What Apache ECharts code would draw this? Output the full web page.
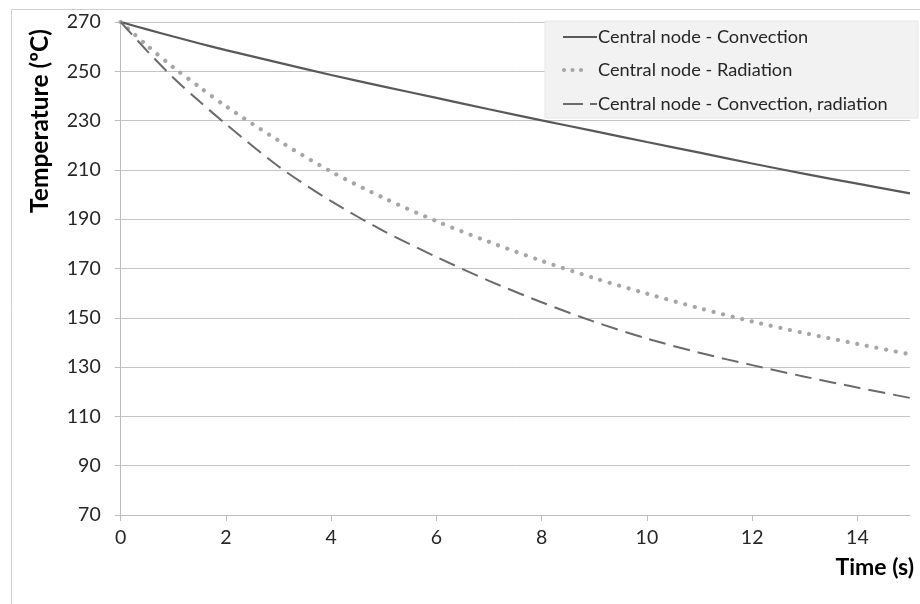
<!DOCTYPE html>
<html>
<head>
<meta charset="utf-8">
<script src="https://cdn.jsdelivr.net/npm/echarts@6/dist/echarts.min.js"></script>
<style>html,body{margin:0;padding:0;background:#fff;}#c{width:920px;height:604px;}</style>
</head>
<body>
<div id="c"></div>
<script>
var timeS = [0, 0.5, 1, 1.5, 2, 3, 4, 5, 6, 7, 8, 9, 10, 11, 12, 13, 14, 15];
var convection = [270, 267.0, 264.1, 261.3, 258.6, 253.5, 248.5, 243.8, 239.2, 234.6, 230.1, 225.7, 221.3, 217.0, 212.6, 208.4, 204.4, 200.5];
var radiation = [270, 260.5, 251.6, 243.6, 235.8, 221.9, 209.3, 198.6, 189.2, 180.8, 173.1, 166.1, 159.8, 153.9, 148.5, 143.8, 139.4, 135.2];
var convRad = [270, 258.3, 247.4, 237.7, 228.6, 211.4, 197.3, 185.2, 174.7, 165.0, 156.3, 148.4, 141.6, 135.8, 130.8, 126.1, 121.7, 117.5];
var xTicks = [0, 2, 4, 6, 8, 10, 12, 14];
var seriesNames = ['Central node - Convection', 'Central node - Radiation', 'Central node - Convection, radiation'];

function pairs(ys) { return timeS.map(function (t, i) { return [t, ys[i]]; }); }

var FONT = 'Lato';
var C_SOLID = '#595959', C_DOT = '#a6a6a6', C_DASH = '#6b6b6b';
var DOT_STYLE = { color: C_DOT, width: 4.2, type: [0.01, 9.8], cap: 'round' };
var DASH_STYLE = { color: C_DASH, width: 2, type: [17, 8] };

var chart = echarts.init(document.getElementById('c'), null, { renderer: 'canvas' });
chart.setOption({
  animation: false,
  backgroundColor: '#ffffff',
  textStyle: { fontFamily: FONT },
  grid: { left: 120.7, top: 22, right: 10, bottom: 89, containLabel: false },
  xAxis: {
    type: 'value', min: 0, max: 15, interval: 2,
    axisLine: { show: true, lineStyle: { color: '#bdbdbd', width: 1 } },
    axisTick: { show: true, inside: false, length: 6, lineStyle: { color: '#bdbdbd' }, customValues: xTicks },
    axisLabel: { color: '#262626', fontSize: 19.5, fontFamily: FONT, margin: 13, customValues: xTicks },
    splitLine: { show: false }
  },
  yAxis: {
    type: 'value', min: 70, max: 270, interval: 20,
    axisLine: { show: true, lineStyle: { color: '#bdbdbd', width: 1 } },
    axisTick: { show: true, inside: false, length: 6, lineStyle: { color: '#bdbdbd' } },
    axisLabel: { color: '#262626', fontSize: 19.5, fontFamily: FONT, margin: 20 },
    splitLine: { show: true, lineStyle: { color: '#c4c4c4', width: 1 } }
  },
  legend: {
    orient: 'vertical', left: 563, top: 27, padding: 0,
    itemWidth: 34, itemHeight: 14, itemGap: 13.5, icon: 'none',
    data: seriesNames,
    textStyle: { color: '#262626', fontSize: 18.2, fontFamily: FONT, padding: [0, 0, 0, -4], lineHeight: 20 },
    z: 10
  },
  graphic: [
    { type: 'rect', left: 9, top: 7, shape: { width: 1000, height: 1000 }, style: { fill: 'none', stroke: '#cfcfcf', lineWidth: 1 }, z: 0, silent: true },
    { type: 'rect', shape: { x: 545, y: 21, width: 373, height: 97 }, style: { fill: '#f2f2f2', stroke: '#e6e6e6' }, z: 5, silent: true },
    { type: 'line', shape: { x1: 563, y1: 37, x2: 597, y2: 37 }, style: { stroke: C_SOLID, lineWidth: 2.2 }, z: 11, silent: true },
    { type: 'line', shape: { x1: 564, y1: 70, x2: 582, y2: 70 }, style: { stroke: C_DOT, lineWidth: 4.2, lineDash: [0.01, 8.5], lineCap: 'round' }, z: 11, silent: true },
    { type: 'line', shape: { x1: 563, y1: 104, x2: 597, y2: 104 }, style: { stroke: C_DASH, lineWidth: 2, lineDash: [20, 7] }, z: 11, silent: true },
    { type: 'text', x: 40, y: 121, rotation: Math.PI / 2, style: { text: 'Temperature (ºC)', font: 'bold 24.5px ' + FONT, fill: '#000', align: 'center', verticalAlign: 'middle' }, z: 6 },
    { type: 'text', x: 914, y: 568, style: { text: 'Time (s)', font: 'bold 23px ' + FONT, fill: '#000', align: 'right', verticalAlign: 'middle' }, z: 6 }
  ],
  series: [
    { name: seriesNames[0], type: 'line', data: pairs(convection), showSymbol: false, symbol: 'none', smooth: 0.3,
      lineStyle: { color: C_SOLID, width: 2.2 }, itemStyle: { color: C_SOLID }, z: 3 },
    { name: seriesNames[1], type: 'line', data: pairs(radiation), showSymbol: false, symbol: 'none', smooth: 0.3,
      lineStyle: DOT_STYLE, itemStyle: { color: C_DOT }, z: 3 },
    { name: seriesNames[2], type: 'line', data: pairs(convRad), showSymbol: false, symbol: 'none', smooth: 0.3,
      lineStyle: DASH_STYLE, itemStyle: { color: C_DASH }, z: 3 }
  ]
});
</script>
</body>
</html>
